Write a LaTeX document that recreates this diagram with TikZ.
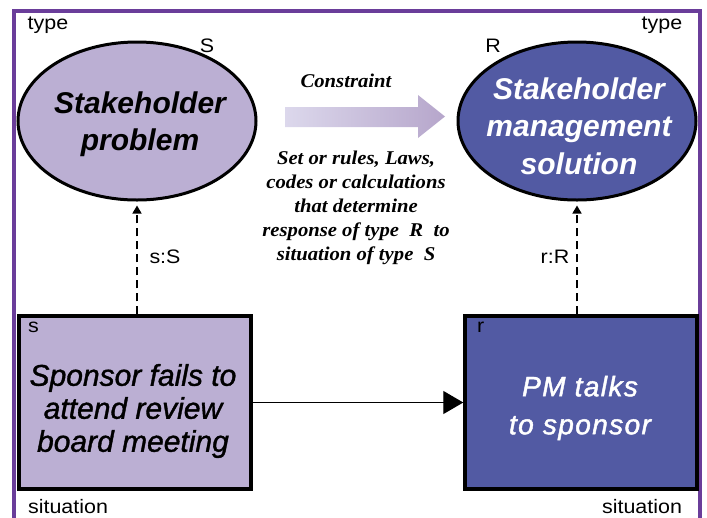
\documentclass[tikz,border=0pt]{standalone}
\usepackage{fontspec}
\setmainfont{Liberation Serif}
\setsansfont{Liberation Sans}
\newfontfamily\notefont{Liberation Serif}[FakeStretch=1.06]
\newfontfamily\tagfont{Liberation Sans}[FakeStretch=1.1]
\newfontfamily\boxfont{Liberation Sans}[FakeBold=1.2]
\newfontfamily\boxwidefont{Liberation Sans}[FakeBold=1.6, LetterSpace=5]
\usetikzlibrary{shapes.geometric,arrows.meta,shadings}
\definecolor{frame}{HTML}{6A3D9A}
\definecolor{lav}{HTML}{BBAFD3}
\definecolor{indigo}{HTML}{525AA3}
\definecolor{gradA}{HTML}{DCD8EC}
\definecolor{gradB}{HTML}{B6A6CB}
\tikzset{
  typeell/.style={ellipse, draw=black, line width=3pt, minimum width=238pt, minimum height=158pt, inner sep=0pt},
  typetext/.style={align=center, inner sep=0pt, font=\sffamily\bfseries\itshape\fontsize{30}{37.5}\selectfont},
  sitbox/.style={rectangle, draw=black, line width=3.5pt, minimum width=232pt, minimum height=173pt, inner sep=0pt},
  tag/.style={font=\tagfont\fontsize{19.5}{22}\selectfont, inner sep=0pt},
  dashlink/.style={dashed, dash pattern=on 8pt off 5pt, line width=1.4pt, shorten >=4pt, -{Triangle[length=8pt,width=9pt]}},
  note/.style={font=\notefont\bfseries\itshape\fontsize{19.5}{24}\selectfont, align=center, inner sep=0pt}
}
\begin{document}
\begin{tikzpicture}[x=1pt,y=-1pt]
\useasboundingbox (0,0) rectangle (707,517);
% outer frame, open at the bottom
\draw[frame, line width=4pt] (14,519) -- (14,11) -- (700,11) -- (700,519);

% types
\node[typeell, fill=lav] (S) at (137,121) {};
\node[typeell, fill=indigo] (R) at (577,121) {};
\node[typetext, text=black] (Stext) at (140,124) {Stakeholder\\problem};
\node[typetext, text=white] (Rtext) at (579,126) {Stakeholder\\management\\solution};
\node[tag] (typeL) at (48,25) {type};
\node[tag] (typeR) at (662,25) {type};
\node[tag] (labS) at (207,46) {S};
\node[tag] (labR) at (493,46) {R};

% constraint arrow with gradient
\shade[left color=gradA, right color=gradB]
  (285,107) -- (418,107) -- (418,95) -- (445,116.5) -- (418,138) -- (418,127) -- (285,127) -- cycle;
\node[note] (cons) at (346,81) {Constraint};
\node[note] (rules) at (356,208) {Set or rules, Laws,\\codes or calculations\\that determine\\response of type~ R~ to\\situation of type~ S};

% situations
\node[sitbox, fill=lav] (s) at (135,402.5) {};
\node[sitbox, fill=indigo] (r) at (581,402.5) {};
\node[tag, anchor=north west] (labs) at (28,322) {s};
\node[tag, anchor=north west] (labr) at (477,322) {r};
\node[align=center, inner sep=0pt, font=\boxfont\itshape\fontsize{30}{33}\selectfont] (stext) at (133,411) {Sponsor fails to\\attend review\\board meeting};
\node[align=center, inner sep=0pt, text=white, font=\boxwidefont\itshape\fontsize{28}{38}\selectfont] (rtext) at (580,408) {PM talks\\to sponsor};
\node[tag] (sitL) at (68,507) {situation};
\node[tag] (sitR) at (642,507) {situation};

% links
\draw[dashlink] (s.north -| S.south) -- (S.south);
\draw[dashlink] (r.north -| R.south) -- (R.south);
\node[tag] (sS) at (165,257) {s:S};
\node[tag] (rR) at (555,257) {r:R};
\draw[line width=1.4pt, -{Triangle[length=20pt,width=23pt]}] (s.east) -- (r.west);
\end{tikzpicture}
\end{document}
